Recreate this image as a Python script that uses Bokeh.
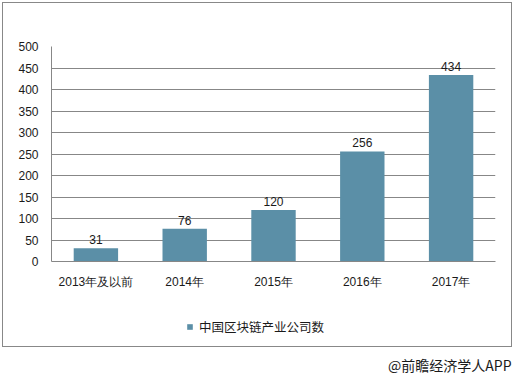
from bokeh.plotting import figure
from bokeh.layouts import column
from bokeh.models import (ColumnDataSource, Range1d, FactorRange, FixedTicker,
                          LabelSet, Legend, LegendItem, Label, Title)
from bokeh.core.properties import value
from bokeh.embed import file_html
from bokeh.resources import INLINE

categories = ["2013年及以前", "2014年", "2015年", "2016年", "2017年"]
counts = [31, 76, 120, 256, 434]
y_ticks = [0, 50, 100, 150, 200, 250, 300, 350, 400, 450, 500]
series_name = "中国区块链产业公司数"
source_note = "@前瞻经济学人APP"

BAR = "#5b8fa7"
GRID = "#878787"
FONT = "Liberation Sans"
CJK = "Noto Sans CJK SC"

src = ColumnDataSource(dict(cat=categories, val=counts, lbl=[str(v) for v in counts]))

ln = "linear-gradient(#888,#888)"
top_css = (f"{ln} 2px 2px/510px 1px no-repeat, {ln} 2px 2px/1px 298px no-repeat, "
           f"{ln} 511px 2px/1px 298px no-repeat")
bot_css = (f"{ln} 2px 46px/510px 1px no-repeat, {ln} 2px 0/1px 47px no-repeat, "
           f"{ln} 511px 0/1px 47px no-repeat")

# main chart
p = figure(width=514, height=300, x_range=FactorRange(*categories, range_padding=0),
           y_range=Range1d(0, 500), output_backend="svg", toolbar_location=None,
           min_border_left=51, min_border_right=19, min_border_top=46, min_border_bottom=39,
           styles={"background": top_css})
p.outline_line_color = None
p.background_fill_color = "white"
p.border_fill_color = None

r = p.vbar(x="cat", top="val", width=0.5, source=src, fill_color=BAR, line_color=None)

p.yaxis.ticker = FixedTicker(ticks=y_ticks)
p.ygrid.ticker = FixedTicker(ticks=y_ticks)
p.xgrid.grid_line_color = None
p.ygrid.grid_line_color = GRID
p.ygrid.grid_line_width = 1

for ax in (p.xaxis[0], p.yaxis[0]):
    ax.axis_line_color = GRID
    ax.major_tick_line_color = None
    ax.minor_tick_line_color = None
    ax.major_tick_out = 0
    ax.major_tick_in = 0
    ax.minor_tick_out = 0
    ax.minor_tick_in = 0
    ax.major_label_text_font = FONT
    ax.major_label_text_font_size = "12px"
    ax.major_label_text_color = "#1a1a1a"
p.yaxis.major_label_standoff = 13
p.xaxis.major_label_standoff = 13

labels = LabelSet(x="cat", y="val", text="lbl", source=src, text_align="center",
                  text_baseline="bottom", y_offset=4, text_font=value(FONT),
                  text_font_size="12px", text_color="#1a1a1a")
p.add_layout(labels)

# legend / source strip below the chart (same series, drawn out of view, only for its key)
q = figure(width=514, height=74, x_range=FactorRange(*categories, range_padding=0),
           y_range=Range1d(600, 700), output_backend="svg", toolbar_location=None,
           x_axis_location=None, y_axis_location=None,
           min_border_left=0, min_border_right=0, min_border_top=0, min_border_bottom=0,
           styles={"background": bot_css})
q.grid.visible = False
q.outline_line_color = None
q.background_fill_color = None
q.border_fill_color = None

key = q.vbar(x="cat", top="val", width=0.5, source=src, fill_color=BAR, line_color=None)

can_unalign = hasattr(q, "frame_align")
if can_unalign:
    p.frame_align = False
    q.frame_align = False
    leg_loc = (186, 38)
else:
    leg_loc = (135, 18)

legend = Legend(items=[LegendItem(label=series_name, renderers=[key])],
                location=leg_loc, orientation="horizontal",
                glyph_width=7, glyph_height=7, label_height=14, label_standoff=6,
                padding=0, margin=0, border_line_color=None, background_fill_alpha=0,
                label_text_font=CJK, label_text_font_size="12.5px",
                label_text_color="#1a1a1a", label_text_baseline="middle")
q.add_layout(legend, "center")

if can_unalign:
    note = Label(x=511, y=10, x_units="screen", y_units="screen", text=source_note,
                 text_align="right", text_baseline="middle",
                 text_font=CJK, text_font_size="14px", text_color="#1a1a1a")
    q.add_layout(note)
else:
    note = Title(text=source_note, align="right", offset=16, standoff=0,
                 vertical_align="middle", text_font=CJK, text_font_size="14px",
                 text_font_style="normal", text_color="#1a1a1a")
    q.add_layout(note, "below")

open("out.html", "w").write(file_html(column(p, q, spacing=0), INLINE))
